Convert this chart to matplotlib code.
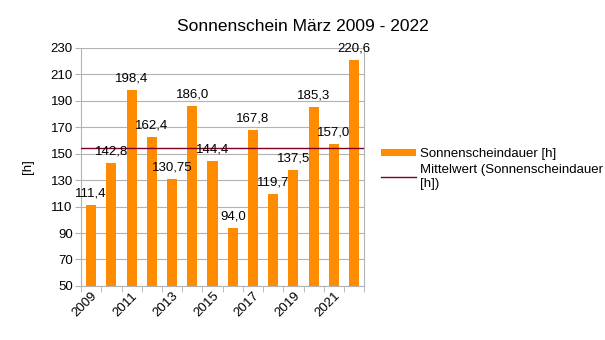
import numpy as np
import matplotlib.pyplot as plt

plt.rcParams['font.family'] = ['Liberation Sans', 'DejaVu Sans']

years = list(range(2009, 2023))
hours = [111.4, 142.8, 198.4, 162.4, 130.75, 186.0, 144.4, 94.0,
         167.8, 119.7, 137.5, 185.3, 157.0, 220.6]
bar_labels = ["111,4", "142,8", "198,4", "162,4", "130,75", "186,0", "144,4",
              "94,0", "167,8", "119,7", "137,5", "185,3", "157,0", "220,6"]
yticks = list(range(50, 231, 20))

mean = np.mean(hours)
x = np.arange(len(years))

fig = plt.figure(figsize=(6.05, 3.4), dpi=100)
ax = fig.add_axes([0.134, 0.159, 0.468, 0.700])

bars = ax.bar(x, hours, width=0.5, color='#FF8C00', zorder=2,
              label='Sonnenscheindauer [h]')
mline = ax.axhline(mean, color='#7E0021', lw=1, zorder=3,
                   label='Mittelwert (Sonnenscheindauer\n[h])')

for xi, v, s in zip(x, hours, bar_labels):
    ax.annotate(s, (xi, v), xytext=(0, 4), textcoords='offset points',
                ha='center', va='bottom', fontsize=9.5, zorder=4)

ax.set_xlim(-0.5, len(years) - 0.5)
ax.set_ylim(50, 230)
ax.set_yticks(yticks)
ax.tick_params(axis='y', labelsize=9.5, length=4, color='#b3b3b3', pad=2)
ax.grid(axis='y', color='#b3b3b3', lw=0.8, zorder=0)

ax.set_xticks(x[::2])
ax.set_xticklabels([str(y) for y in years[::2]], rotation=45, ha='right',
                   rotation_mode='anchor', fontsize=9.5)
ax.tick_params(axis='x', length=0, pad=3)
ax.set_xticks(np.arange(-0.5, len(years), 1), minor=True)
ax.tick_params(axis='x', which='minor', length=4, color='#b3b3b3')

for sp in ['left', 'bottom', 'right']:
    ax.spines[sp].set_color('#b3b3b3')
ax.spines['top'].set_visible(False)

ax.set_ylabel('[h]', fontsize=9.5, labelpad=12)

fig.suptitle('Sonnenschein März 2009 - 2022', fontsize=12.5, x=0.5, y=0.945)

ax.legend([bars, mline], [bars.get_label(), mline.get_label()],
          loc='upper left', bbox_to_anchor=(1.04, 0.60), frameon=False,
          fontsize=9.5, handlelength=2.7, handleheight=0.5,
          handletextpad=0.25, labelspacing=0.25, borderaxespad=0)

fig.savefig('out.png', dpi=100)
